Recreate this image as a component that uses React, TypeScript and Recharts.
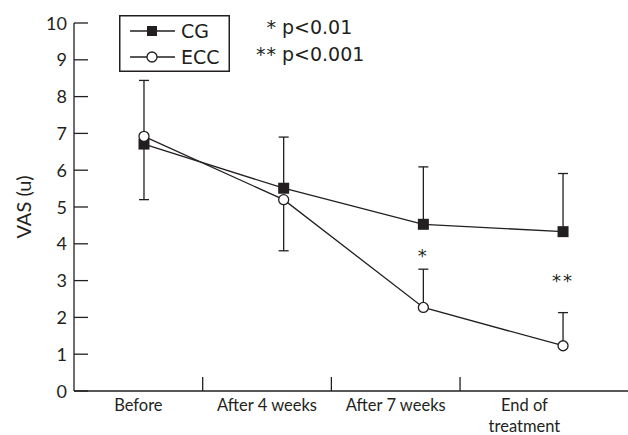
import React from 'react';
import { LineChart, Line, XAxis, YAxis, ErrorBar, ReferenceDot, Legend } from 'recharts';

const INK = '#231f20';
const FONT = 'Lato, "Noto Sans", sans-serif';
const WIDE = '"DejaVu Sans", sans-serif';

// categories and values
const categories = ['Before', 'After 4 weeks', 'After 7 weeks', 'End of\ntreatment'];
const cgMean = [6.71, 5.51, 4.53, 4.33];
const cgErr = [[0, 1.73], [0, 1.39], [0, 1.56], [0, 1.58]];
const eccMean = [6.92, 5.2, 2.27, 1.23];
const eccErr = [[1.72, 0], [1.39, 0], [0, 1.04], [0, 0.9]];
const yTicks = [0, 1, 2, 3, 4, 5, 6, 7, 8, 9, 10];
const sigMarks = [
  { idx: 2, y: 3.67, text: '*' },
  { idx: 3, y: 2.99, text: '**' },
];
const pNotes = [
  { stars: '*', text: 'p<0.01' },
  { stars: '**', text: 'p<0.001' },
];

const data = categories.map((c, i) => ({
  idx: i,
  name: c,
  cg: cgMean[i],
  cgErr: cgErr[i],
  ecc: eccMean[i],
  eccErr: eccErr[i],
}));

const YTick = (props: any) => {
  const { x, y, payload } = props;
  return (
    <g>
      <line x1={x + 7} x2={x + 21} y1={y} y2={y} stroke={INK} strokeWidth={1.3} />
      <text x={x} y={y} dy={6.5} textAnchor="end" fontSize={18} fill={INK} fontFamily={FONT}>
        {payload.value}
      </text>
    </g>
  );
};

const XTick = (props: any) => {
  const { x, y, payload } = props;
  const v = payload.value;
  if (Number.isInteger(v)) {
    return <line x1={x} x2={x} y1={y} y2={y - 14} stroke={INK} strokeWidth={1.3} />;
  }
  const lines = categories[Math.floor(v)].split('\n');
  return (
    <text x={x} y={y} textAnchor="middle" fontSize={16.5} fill={INK} fontFamily={FONT}>
      {lines.map((l, i) => (
        <tspan key={i} x={x} dy={i === 0 ? 20 : 21}>
          {l}
        </tspan>
      ))}
    </text>
  );
};

const Square = (props: any) => {
  const { cx, cy } = props;
  if (cx == null || cy == null) return null;
  return <rect x={cx - 5.5} y={cy - 5.5} width={11} height={11} fill={INK} />;
};

const LegendBox = () => (
  <svg width={111} height={57} style={{ display: 'block' }}>
    <rect x={0.75} y={0.75} width={109.5} height={55.5} fill="#fff" stroke={INK} strokeWidth={1.5} />
    <line x1={11} x2={56} y1={16} y2={16} stroke={INK} strokeWidth={1.3} />
    <rect x={28} y={11} width={10} height={10} fill={INK} />
    <text x={62} y={23} fontSize={19} fill={INK} fontFamily={WIDE}>CG</text>
    <line x1={11} x2={56} y1={42} y2={42} stroke={INK} strokeWidth={1.3} />
    <circle cx={33} cy={42} r={5} fill="#fff" stroke={INK} strokeWidth={1.3} />
    <text x={62} y={49} fontSize={19} fill={INK} fontFamily={WIDE}>ECC</text>
  </svg>
);

export default function App() {
  return (
    <div style={{ position: 'absolute', left: 0, top: 0, width: 628, height: 435, background: '#fff', fontFamily: FONT }}>
      <LineChart width={628} height={435} data={data} margin={{ top: 23, right: 0, bottom: 14, left: 0 }}>
        <XAxis
          xAxisId="grid"
          dataKey="idx"
          type="number"
          domain={[0, 4.305]}
          ticks={[0.5, 1, 1.5, 2, 2.5, 3, 3.5]}
          tick={<XTick />}
          tickLine={false}
          tickSize={0}
          tickMargin={0}
          height={30}
          interval={0}
          axisLine={{ stroke: INK, strokeWidth: 1.3 }}
          allowDataOverflow
        />
        <XAxis
          xAxisId="data"
          dataKey="idx"
          type="number"
          orientation="top"
          domain={[-0.501, 3.465]}
          hide
          allowDataOverflow
        />
        <YAxis
          type="number"
          domain={[0, 10]}
          ticks={yTicks}
          width={74}
          interval={0}
          tick={<YTick />}
          tickLine={false}
          tickSize={0}
          tickMargin={7}
          axisLine={{ stroke: INK, strokeWidth: 1.3 }}
          label={{ value: 'VAS (u)', angle: -90, position: 'insideLeft', offset: 24, fill: INK, fontSize: 20, fontFamily: FONT, style: { textAnchor: 'middle' } }}
        />
        <Legend
          layout="vertical"
          align="center"
          verticalAlign="middle"
          wrapperStyle={{ left: 119, top: 15, width: 111, height: 57 }}
          content={<LegendBox />}
        />
        <Line
          xAxisId="data"
          dataKey="cg"
          name="CG"
          stroke={INK}
          strokeWidth={1.3}
          dot={<Square />}
          activeDot={false}
          isAnimationActive={false}
        >
          <ErrorBar dataKey="cgErr" width={5} stroke={INK} strokeWidth={1.3} direction="y" isAnimationActive={false} />
        </Line>
        <Line
          xAxisId="data"
          dataKey="ecc"
          name="ECC"
          stroke={INK}
          strokeWidth={1.3}
          dot={{ r: 5, fill: '#fff', stroke: INK, strokeWidth: 1.3 }}
          activeDot={false}
          isAnimationActive={false}
        >
          <ErrorBar dataKey="eccErr" width={5} stroke={INK} strokeWidth={1.3} direction="y" isAnimationActive={false} />
        </Line>
        {sigMarks.map((m) => (
          <ReferenceDot
            key={m.idx}
            xAxisId="data"
            x={m.idx}
            y={m.y}
            r={0}
            stroke="none"
            label={{ value: m.text, position: 'center', fill: INK, fontSize: 18, fontFamily: WIDE, letterSpacing: 2 }}
          />
        ))}
      </LineChart>
      <div style={{ position: 'absolute', left: 250, top: 14, fontSize: 19, fontFamily: WIDE, color: INK, lineHeight: '27px' }}>
        {pNotes.map((n) => (
          <div key={n.text} style={{ display: 'flex' }}>
            <span style={{ width: 32, textAlign: 'right', paddingRight: 5, boxSizing: 'border-box', letterSpacing: 1 }}>{n.stars}</span>
            <span>{n.text}</span>
          </div>
        ))}
      </div>
    </div>
  );
}
